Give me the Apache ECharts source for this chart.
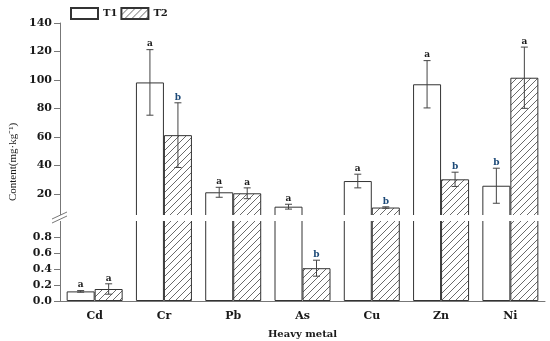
<!DOCTYPE html>
<html><head><meta charset="utf-8">
<script src="https://cdn.jsdelivr.net/npm/echarts@6/dist/echarts.min.js"></script>
<style>html,body{margin:0;padding:0;background:#fff}#c{width:550px;height:341px}</style>
</head><body><div id="c"></div>
<script>
const categories = ['Cd', 'Cr', 'Pb', 'As', 'Cu', 'Zn', 'Ni'];
const t1Mean = [0.12, 98.3, 21.2, 11.1, 29.1, 97.0, 25.8];
const t1Err  = [0.01, 23.0, 3.5, 1.7, 4.8, 16.6, 12.3];
const t2Mean = [0.15, 61.3, 20.5, 0.41, 10.5, 30.3, 101.6];
const t2Err  = [0.065, 22.7, 3.8, 0.10, 0.5, 5.0, 21.5];
const t1Letters = ['a', 'a', 'a', 'a', 'a', 'a', 'b'];
const t2Letters = ['a', 'b', 'a', 'b', 'b', 'b', 'a'];
const upperTicks = [20, 40, 60, 80, 100, 120, 140];
const lowerTicks = [0, 0.2, 0.4, 0.6, 0.8];
const seriesNames = ['T1', 'T2'];

const BREAK = 4;          // values below this only live in the lower panel
const LOWER_MAX = 1.025;

function makeHatch() {
  const s = 7;
  const c = document.createElement('canvas');
  c.width = s; c.height = s;
  const g = c.getContext('2d');
  g.fillStyle = '#fff'; g.fillRect(0, 0, s, s);
  g.strokeStyle = '#444'; g.lineWidth = 0.8;
  g.beginPath();
  g.moveTo(0, s); g.lineTo(s, 0);
  g.moveTo(-1, 1); g.lineTo(1, -1);
  g.moveTo(s - 1, s + 1); g.lineTo(s + 1, s - 1);
  g.stroke();
  return c;
}
const hatch = { image: makeHatch(), repeat: 'repeat' };

const FONT = 'DejaVu Serif';
const TXT = '#1a1a1a';
const AXC = '#777';
const BW = 28;

function errData(means, errs, side, lower) {
  const out = [];
  means.forEach((m, i) => {
    if ((m < BREAK) === lower) out.push([i, m, errs[i], side]);
  });
  return out;
}
function renderErr(params, api) {
  const i = api.value(0), m = api.value(1), e = api.value(2), side = api.value(3);
  const p = api.coord([i, m]);
  const cx = p[0] + (side ? BW / 2 : -BW / 2);
  const yt = api.coord([i, m + e])[1];
  const yb = api.coord([i, m - e])[1];
  const letter = side ? t2Letters[i] : t1Letters[i];
  const ls = { stroke: '#444', lineWidth: 1 };
  return { type: 'group', children: [
    { type: 'line', shape: { x1: cx, y1: yt, x2: cx, y2: yb }, style: ls },
    { type: 'line', shape: { x1: cx - 3.5, y1: yt, x2: cx + 3.5, y2: yt }, style: ls },
    { type: 'line', shape: { x1: cx - 3.5, y1: yb, x2: cx + 3.5, y2: yb }, style: ls },
    { type: 'text', style: { text: letter, x: cx, y: yt - 1, textAlign: 'center', textVerticalAlign: 'bottom',
      font: 'bold 9px "' + FONT + '"', fill: letter === 'b' ? '#1d4a78' : TXT } }
  ]};
}

const barStyleT1 = { color: '#fff', borderColor: '#333', borderWidth: 1 };
const barStyleT2 = { color: hatch, borderColor: '#333', borderWidth: 1 };

const yCommon = {
  type: 'value',
  axisLine: { show: true, lineStyle: { color: AXC } },
  axisTick: { show: true, length: 6, lineStyle: { color: AXC } },
  splitLine: { show: false },
  axisLabel: { color: TXT, fontFamily: FONT, fontWeight: 'bold', fontSize: 11, margin: 8 }
};

const chart = echarts.init(document.getElementById('c'));
chart.setOption({
  animation: false,
  backgroundColor: '#fff',
  legend: {
    data: seriesNames, left: 65, top: 2, itemWidth: 27, itemHeight: 11, itemGap: 3,
    icon: 'rect', selectedMode: false,
    textStyle: { color: TXT, fontFamily: FONT, fontWeight: 'bold', fontSize: 10 }
  },
  grid: [
    { left: 60, width: 485, top: 23, height: 193.8 },
    { left: 60, width: 485, top: 219, height: 82 }
  ],
  xAxis: [
    { type: 'category', data: categories, gridIndex: 0, show: false },
    { type: 'category', data: categories, gridIndex: 1,
      axisLine: { lineStyle: { color: AXC } },
      axisTick: { alignWithLabel: true, length: 5, lineStyle: { color: AXC } },
      axisLabel: { color: TXT, fontFamily: FONT, fontWeight: 'bold', fontSize: 11, margin: 10 },
      name: 'Heavy metal', nameLocation: 'middle', nameGap: 28,
      nameTextStyle: { color: TXT, fontFamily: FONT, fontWeight: 'bold', fontSize: 10 } }
  ],
  yAxis: [
    Object.assign({}, yCommon, { gridIndex: 0, min: BREAK, max: 140,
      axisTick: Object.assign({}, yCommon.axisTick, { customValues: upperTicks }),
      axisLabel: Object.assign({}, yCommon.axisLabel, { customValues: upperTicks }) }),
    Object.assign({}, yCommon, { gridIndex: 1, min: 0, max: LOWER_MAX,
      axisTick: Object.assign({}, yCommon.axisTick, { customValues: lowerTicks }),
      axisLabel: Object.assign({}, yCommon.axisLabel, { customValues: lowerTicks,
        formatter: v => v.toFixed(1) }) })
  ],
  series: [
    { name: 'T1', type: 'bar', xAxisIndex: 0, yAxisIndex: 0, data: t1Mean, barWidth: BW, barGap: '0%', clip: true, itemStyle: barStyleT1 },
    { name: 'T2', type: 'bar', xAxisIndex: 0, yAxisIndex: 0, data: t2Mean, barWidth: BW, barGap: '0%', clip: true, itemStyle: barStyleT2 },
    { name: 'T1', type: 'bar', xAxisIndex: 1, yAxisIndex: 1, data: t1Mean, barWidth: BW, barGap: '0%', clip: true, itemStyle: barStyleT1 },
    { name: 'T2', type: 'bar', xAxisIndex: 1, yAxisIndex: 1, data: t2Mean, barWidth: BW, barGap: '0%', clip: true, itemStyle: barStyleT2 },
    { type: 'custom', xAxisIndex: 0, yAxisIndex: 0, renderItem: renderErr, z: 5,
      data: errData(t1Mean, t1Err, 0, false).concat(errData(t2Mean, t2Err, 1, false)) },
    { type: 'custom', xAxisIndex: 1, yAxisIndex: 1, renderItem: renderErr, z: 5,
      data: errData(t1Mean, t1Err, 0, true).concat(errData(t2Mean, t2Err, 1, true)) }
  ],
  graphic: [
    { type: 'rect', z: 100, shape: { x: 54, y: 215, width: 496, height: 6 }, style: { fill: '#fff' } },
    { type: 'line', z: 101, shape: { x1: 52, y1: 219, x2: 67, y2: 212 }, style: { stroke: AXC, lineWidth: 1 } },
    { type: 'line', z: 101, shape: { x1: 52, y1: 223, x2: 67, y2: 216 }, style: { stroke: AXC, lineWidth: 1 } },
    { type: 'text', z: 101, x: 13, y: 162, rotation: Math.PI / 2,
      style: { text: 'Content(mg·kg⁻¹)', textAlign: 'center', textVerticalAlign: 'middle',
        font: '11px "Liberation Serif"', fill: TXT } }
  ]
});
</script></body></html>
